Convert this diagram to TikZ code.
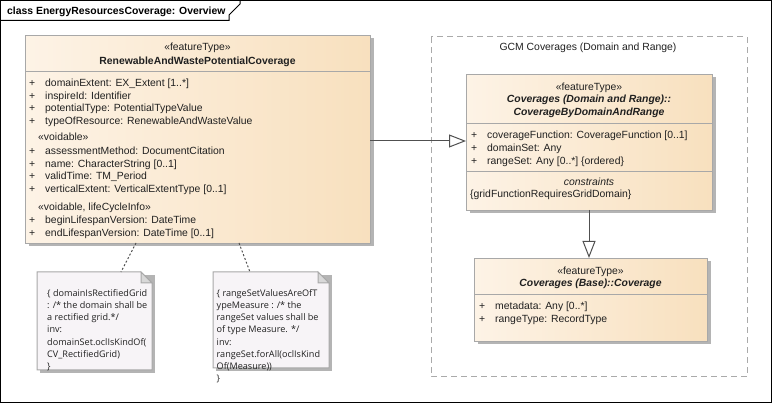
\documentclass[tikz,border=0pt]{standalone}
\usepackage{fontspec}
\setmainfont{Liberation Sans}
\newfontfamily\notefont{Open Sans}
\usetikzlibrary{arrows.meta,shadows}
\definecolor{clsL}{HTML}{FDF3E6}
\definecolor{clsR}{HTML}{F8E0BE}
\definecolor{clsLine}{HTML}{A8A8A8}
\definecolor{shadowc}{HTML}{B4B4B4}
\definecolor{notefill}{HTML}{F7F4F7}
\definecolor{notefold}{HTML}{D8D8D8}
\definecolor{pkgLine}{HTML}{AAAAAA}
\definecolor{txt}{HTML}{202020}
\definecolor{conn}{HTML}{505050}
\newcommand\plusmark{\makebox[16pt][l]{+}}
\tikzset{
  classbox/.style={draw=clsLine, line width=1pt, left color=clsL, right color=clsR,
    anchor=north west, inner sep=0pt,
    drop shadow={shadow xshift=3pt, shadow yshift=-3pt, opacity=1, fill=shadowc}},
  sepline/.style={draw=clsLine, line width=1pt},
  attr/.style={anchor=base west, inner sep=0pt, text=txt, font=\fontsize{10.4}{12.5}\selectfont},
  ctr/.style={anchor=base, inner sep=0pt, text=txt, font=\fontsize{10.4}{12.5}\selectfont},
  ctrb/.style={ctr, font=\fontsize{10.4}{12.5}\selectfont\bfseries},
  ctrbi/.style={ctr, font=\fontsize{10.4}{12.5}\selectfont\bfseries\itshape},
  notebody/.style={fill=notefill, draw=clsLine, line width=1pt},
  noteshadow/.style={fill=shadowc},
  notetext/.style={anchor=north west, inner sep=0pt, align=left, text=txt,
    font=\notefont\fontsize{9.1}{12.1}\selectfont},
  anchorline/.style={draw=conn, line width=1pt, dash pattern=on 2pt off 2pt},
  genline/.style={draw=conn, line width=1pt,
    -{Triangle[open, length=17pt, width=13pt, fill=white]}},
}
\begin{document}
\begin{tikzpicture}[x=1pt,y=-1pt]
\useasboundingbox (0,0) rectangle (772,403);
% frame
\draw[black, line width=1pt] (0.5,0.5) rectangle (771.5,402.5);
\draw[black, line width=1pt] (0,20.5) -- (229,20.5) -- (229,15) -- (240,4) -- (240,0);
\node[anchor=base west, inner sep=0pt, font=\fontsize{10.4}{12.5}\selectfont\bfseries] (title) at (7,15) {class EnergyResourcesCoverage: Overview};

% package
\draw[pkgLine, line width=1pt, dash pattern=on 6pt off 4pt] (431,37) rectangle (747,377);
\node[ctr] (pkg) at (588,51) {GCM Coverages (Domain and Range)};

% left class
\node[classbox, minimum width=345pt, minimum height=208pt] (rw) at (25,35) {};
\draw[sepline] (25,72) -- (370,72);
\node[ctr] (rwst) at (197.5,51) {«featureType»};
\node[ctrb] (rwname) at (197.5,65) {RenewableAndWastePotentialCoverage};
\node[attr] (a1) at (29,87) {\plusmark domainExtent: EX\_Extent [1..*]};
\node[attr] (a2) at (29,99.5) {\plusmark inspireId: Identifier};
\node[attr] (a3) at (29,112) {\plusmark potentialType: PotentialTypeValue};
\node[attr] (a4) at (29,124.5) {\plusmark typeOfResource: RenewableAndWasteValue};
\node[attr] (s1) at (38,141) {«voidable»};
\node[attr] (a5) at (29,155) {\plusmark assessmentMethod: DocumentCitation};
\node[attr] (a6) at (29,167.5) {\plusmark name: CharacterString [0..1]};
\node[attr] (a7) at (29,180) {\plusmark validTime: TM\_Period};
\node[attr] (a8) at (29,192.5) {\plusmark verticalExtent: VerticalExtentType [0..1]};
\node[attr] (s2) at (38,210.5) {«voidable, lifeCycleInfo»};
\node[attr] (a9) at (29,224) {\plusmark beginLifespanVersion: DateTime};
\node[attr] (a10) at (29,236.5) {\plusmark endLifespanVersion: DateTime [0..1]};

% right class CoverageByDomainAndRange
\node[classbox, minimum width=246pt, minimum height=136pt] (cdr) at (466,74) {};
\draw[sepline] (466,124) -- (712,124);
\draw[sepline] (466,172) -- (712,172);
\node[ctr] (cdrst) at (589,91) {«featureType»};
\node[ctrbi] (cdrn1) at (589,103) {Coverages (Domain and Range)::};
\node[ctrbi] (cdrn2) at (589,116) {CoverageByDomainAndRange};
\node[attr] (b1) at (471,139) {\plusmark coverageFunction: CoverageFunction [0..1]};
\node[attr] (b2) at (471,152) {\plusmark domainSet: Any};
\node[attr] (b3) at (471,165) {\plusmark rangeSet: Any [0..*] \{ordered\}};
\node[ctr, font=\fontsize{10.4}{12.5}\selectfont\itshape] (cons) at (589,186) {constraints};
\node[attr] (c1) at (470,198) {\{gridFunctionRequiresGridDomain\}};

% Coverage class
\node[classbox, minimum width=233pt, minimum height=83pt] (cov) at (474,258) {};
\draw[sepline] (474,295) -- (707,295);
\node[ctr] (covst) at (590.5,275) {«featureType»};
\node[ctrbi] (covn) at (590.5,287) {Coverages (Base)::Coverage};
\node[attr] (d1) at (479,310) {\plusmark metadata: Any [0..*]};
\node[attr] (d2) at (479,323) {\plusmark rangeType: RecordType};

% notes
\fill[noteshadow] (40,275) -- (155,275) -- (155,373) -- (40,373) -- cycle;
\path[notebody] (37,272) -- (141,272) -- (152,283) -- (152,370) -- (37,370) -- cycle;
\path[fill=notefold, draw=clsLine, line width=1pt] (141,272) -- (141,283) -- (152,283) -- cycle;
\node[notetext] (n1) at (47,288) {\strut\{ domainIsRectifiedGrid\\: /* the domain shall be\\a rectified grid.*/\\inv:\\domainSet.oclIsKindOf(\\CV\_RectifiedGrid)\\\}};

\fill[noteshadow] (216,275) -- (332,275) -- (332,371) -- (216,371) -- cycle;
\path[notebody] (213,272) -- (318,272) -- (329,283) -- (329,368) -- (213,368) -- cycle;
\path[fill=notefold, draw=clsLine, line width=1pt] (318,272) -- (318,283) -- (329,283) -- cycle;
\node[notetext] (n2) at (216.5,288) {\strut\{ rangeSetValuesAreOfT\\ypeMeasure : /* the\\rangeSet values shall be\\of type Measure. */\\inv:\\rangeSet.forAll(oclIsKind\\Of(Measure))\\\}};

% connectors
\coordinate (n1from) at (136,243);
\coordinate (n1to) at (121,272);
\coordinate (n2from) at (239,243);
\coordinate (n2to) at (250,272);
\draw[anchorline] (n1from) -- (n1to);
\draw[anchorline] (n2from) -- (n2to);

\coordinate (g1s) at (370,141);
\coordinate (g1e) at (466,141);
\draw[genline] (g1s) -- (g1e);
\coordinate (g2s) at (589,210);
\coordinate (g2e) at (589,258);
\draw[genline] (g2s) -- (g2e);
\end{tikzpicture}
\end{document}
